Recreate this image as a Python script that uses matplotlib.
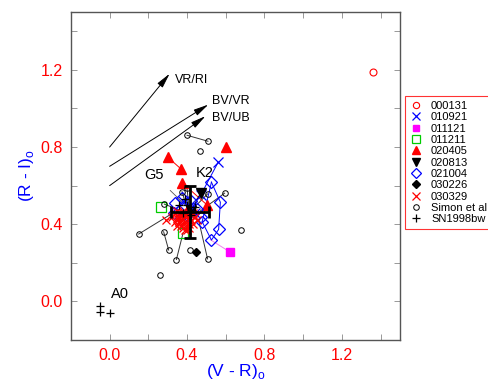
import matplotlib
matplotlib.use("Agg")
import matplotlib.pyplot as plt
from matplotlib.lines import Line2D

plt.rcParams['font.family'] = ['Liberation Sans', 'DejaVu Sans']
plt.rcParams['mathtext.fontset'] = 'custom'
plt.rcParams['mathtext.rm'] = 'Liberation Sans'

# ---------------- data ----------------
x_000131 = [1.36]
y_000131 = [1.19]

x_010921 = [0.56, 0.47, 0.41, 0.38, 0.44]
y_010921 = [0.72, 0.55, 0.49, 0.52, 0.46]

x_011121 = [0.52, 0.62]
y_011121 = [0.32, 0.257]

x_011211 = [0.266, 0.379]
y_011211 = [0.488, 0.353]

x_020405 = [0.60, 0.30, 0.369, 0.374, 0.503]
y_020405 = [0.80, 0.748, 0.686, 0.616, 0.50]

x_020813 = [0.47, 0.42]
y_020813 = [0.561, 0.47]

x_021004 = [0.526, 0.572, 0.563, 0.526, 0.478, 0.374, 0.34, 0.36, 0.40, 0.45, 0.33, 0.42, 0.47]
y_021004 = [0.618, 0.514, 0.373, 0.318, 0.413, 0.535, 0.509, 0.47, 0.45, 0.48, 0.46, 0.52, 0.44]
chain_021004 = [0, 1, 2, 3, 4]

x_030226 = [0.448, 0.41]
y_030226 = [0.257, 0.47]

x_030329 = [0.29, 0.32, 0.34, 0.35, 0.35, 0.36, 0.36, 0.37, 0.37, 0.37, 0.38, 0.38,
            0.38, 0.39, 0.39, 0.40, 0.40, 0.41, 0.41, 0.42, 0.42, 0.43, 0.44, 0.45,
            0.34, 0.36, 0.38, 0.40, 0.35, 0.39, 0.43, 0.37, 0.36, 0.41]
y_030329 = [0.42, 0.44, 0.41, 0.43, 0.39, 0.46, 0.41, 0.44, 0.39, 0.42, 0.46, 0.38, 0.40,
            0.44, 0.41, 0.45, 0.39, 0.43, 0.40, 0.45, 0.42, 0.46, 0.44, 0.42, 0.46, 0.43,
            0.47, 0.37, 0.47, 0.37, 0.40, 0.45, 0.41, 0.38]

x_simon = [0.40, 0.508, 0.469, 0.594, 0.681, 0.15, 0.279, 0.305, 0.345, 0.506, 0.262,
           0.417, 0.283, 0.506, 0.40, 0.374]
y_simon = [0.861, 0.83, 0.781, 0.561, 0.37, 0.349, 0.361, 0.266, 0.217, 0.22, 0.139,
           0.269, 0.504, 0.557, 0.587, 0.569]
# line segments joining Simon et al. points (start x, start y, end x, end y)
seg_x0 = [0.40, 0.15, 0.279, 0.345, 0.506, 0.283, 0.506, 0.40, 0.594, 0.374]
seg_y0 = [0.861, 0.349, 0.361, 0.217, 0.22, 0.504, 0.557, 0.587, 0.561, 0.569]
seg_x1 = [0.508, 0.33, 0.305, 0.379, 0.46, 0.37, 0.43, 0.41, 0.47, 0.40]
seg_y1 = [0.83, 0.46, 0.266, 0.353, 0.42, 0.47, 0.48, 0.48, 0.47, 0.48]

x_sn = [-0.052, -0.052, 0.0, 0.40, 0.38, 0.42, 0.39, 0.44, 0.36]
y_sn = [-0.026, -0.057, -0.061, 0.50, 0.46, 0.45, 0.53, 0.49, 0.50]
sn_mean_x, sn_mean_y = 0.415, 0.465
sn_err_x, sn_err_y = 0.10, 0.135

# reddening vectors: (start x, start y, end x, end y, label)
arr_x0 = [0.0, 0.0, 0.0]
arr_y0 = [0.80, 0.70, 0.60]
arr_x1 = [0.31, 0.51, 0.495]
arr_y1 = [1.18, 1.02, 0.96]
arr_lab = ['VR/RI', 'BV/VR', 'BV/UB']
arr_lx = [0.335, 0.53, 0.53]
arr_ly = [1.15, 1.04, 0.95]

# ---------------- figure ----------------
fig = plt.figure(figsize=(4.89, 3.81), dpi=100)
ax = fig.add_axes([0.145, 0.1076, 0.673, 0.861])
ax.set_xlim(-0.2, 1.5)
ax.set_ylim(-0.2, 1.5)

lw = 0.7
for a, b, c, d in zip(seg_x0, seg_y0, seg_x1, seg_y1):
    ax.plot([a, c], [b, d], color='#333333', lw=lw, zorder=2)

for xx, yy in zip(x_030329[::3], y_030329[::3]):
    ax.plot([0.40, xx], [0.46, yy], color='red', lw=0.6, zorder=2)

ax.plot(x_000131, y_000131, 'o', mfc='none', mec='red', ms=5, mew=0.8, zorder=4)
ax.plot(x_010921[:3], y_010921[:3], '-', color='blue', lw=lw, zorder=3)
ax.plot(x_010921, y_010921, 'x', color='blue', ms=7, mew=0.9, zorder=4)
ax.plot(x_011121, y_011121, '-', color='violet', lw=lw, zorder=3)
ax.plot(x_011121[1:], y_011121[1:], 's', color='magenta', ms=6, zorder=4)
ax.plot(x_011211, y_011211, 's', mfc='none', mec='#00cc00', ms=6.5, mew=0.9, zorder=4)
ax.plot(x_020405[1:3], y_020405[1:3], '-', color='red', lw=lw, zorder=3)
ax.plot(x_020405[3:5], y_020405[3:5], '-', color='red', lw=lw, zorder=3)
ax.plot(x_020405, y_020405, '^', color='red', ms=6.5, zorder=4)
ax.plot(x_020813, y_020813, '-', color='black', lw=lw, zorder=3)
ax.plot(x_020813, y_020813, 'v', color='black', ms=6.5, zorder=4)
ax.plot([x_021004[i] for i in chain_021004], [y_021004[i] for i in chain_021004],
        '-', color='blue', lw=lw, zorder=3)
ax.plot([x_021004[0], x_021004[4]], [y_021004[0], y_021004[4]], '-', color='blue', lw=lw, zorder=3)
ax.plot(x_021004, y_021004, 'D', mfc='none', mec='blue', ms=6.5, mew=0.9, zorder=4)
ax.plot(x_030226, y_030226, 'D', color='black', ms=4.5, zorder=4)
ax.plot(x_030329, y_030329, 'x', color='red', ms=5.5, mew=0.9, zorder=4)
ax.plot(x_simon, y_simon, 'o', mfc='none', mec='black', ms=4, mew=0.7, zorder=4)
ax.plot(x_sn, y_sn, '+', color='black', ms=6, mew=0.9, zorder=5)
ax.errorbar([sn_mean_x], [sn_mean_y], xerr=[sn_err_x], yerr=[sn_err_y], fmt='none',
            ecolor='black', elinewidth=2, capsize=4, capthick=2, zorder=6)

for a, b, c, d, lab, lx, ly in zip(arr_x0, arr_y0, arr_x1, arr_y1, arr_lab, arr_lx, arr_ly):
    ax.annotate('', xy=(c, d), xytext=(a, b),
                arrowprops=dict(arrowstyle='-|>,head_length=0.9,head_width=0.2',
                                color='black', lw=0.7, shrinkA=0, shrinkB=0))
    ax.text(lx, ly, lab, fontsize=9, ha='left', va='center')

ax.annotate('G5', xy=(0.39, 0.50), xytext=(0.23, 0.656), fontsize=10.5, ha='center', va='center',
            arrowprops=dict(arrowstyle='-', color='#555555', lw=0.6, shrinkA=6, shrinkB=0))
ax.text(0.49, 0.667, 'K2', fontsize=10.5, ha='center', va='center')
ax.text(0.053, 0.036, 'A0', fontsize=10.5, ha='center', va='center')

for s in ax.spines.values():
    s.set_color('#555555')
    s.set_linewidth(1.0)
ax.set_xticks([0.0, 0.4, 0.8, 1.2])
ax.set_yticks([0.0, 0.4, 0.8, 1.2])
ax.set_xticks([-0.2, 0.2, 0.6, 1.0, 1.4], minor=True)
ax.set_yticks([-0.2, 0.2, 0.6, 1.0, 1.4], minor=True)
ax.tick_params(which='both', direction='in', top=True, right=True, length=4,
               color='#888888', width=0.6)
ax.tick_params(which='major', labelsize=11.5, labelcolor='red')
ax.tick_params(axis='x', which='major', pad=6)
ax.tick_params(axis='y', which='major', pad=6)
ax.set_xlabel('(V - R)$_\\mathregular{o}$', color='blue', fontsize=12.5, labelpad=-1)
ax.set_ylabel('(R - I)$_\\mathregular{o}$', color='blue', fontsize=12.5, labelpad=3)

handles = [
    Line2D([], [], ls='none', marker='o', mfc='none', mec='red', ms=4.5, mew=0.8),
    Line2D([], [], ls='none', marker='x', color='blue', ms=6, mew=0.9),
    Line2D([], [], ls='none', marker='s', color='magenta', ms=5),
    Line2D([], [], ls='none', marker='s', mfc='none', mec='#00cc00', ms=5.5, mew=0.9),
    Line2D([], [], ls='none', marker='^', color='red', ms=5.5),
    Line2D([], [], ls='none', marker='v', color='black', ms=5.5),
    Line2D([], [], ls='none', marker='D', mfc='none', mec='blue', ms=5.5, mew=0.9),
    Line2D([], [], ls='none', marker='D', color='black', ms=4),
    Line2D([], [], ls='none', marker='x', color='red', ms=6, mew=0.9),
    Line2D([], [], ls='none', marker='o', mfc='none', mec='black', ms=4, mew=0.7),
    Line2D([], [], ls='none', marker='+', color='black', ms=6, mew=0.9),
]
labels = ['000131', '010921', '011121', '011211', '020405', '020813', '021004',
          '030226', '030329', 'Simon et al', 'SN1998bw']
leg = fig.legend(handles, labels, loc='upper left', bbox_to_anchor=(405 / 489, 1 - 96 / 381),
                 fontsize=8.0, frameon=True, fancybox=False, edgecolor='red',
                 handlelength=1.0, handletextpad=0.9, labelspacing=0.12,
                 borderpad=0.45, borderaxespad=0)
leg.get_frame().set_linewidth(0.8)

fig.savefig('out.png', dpi=100)
